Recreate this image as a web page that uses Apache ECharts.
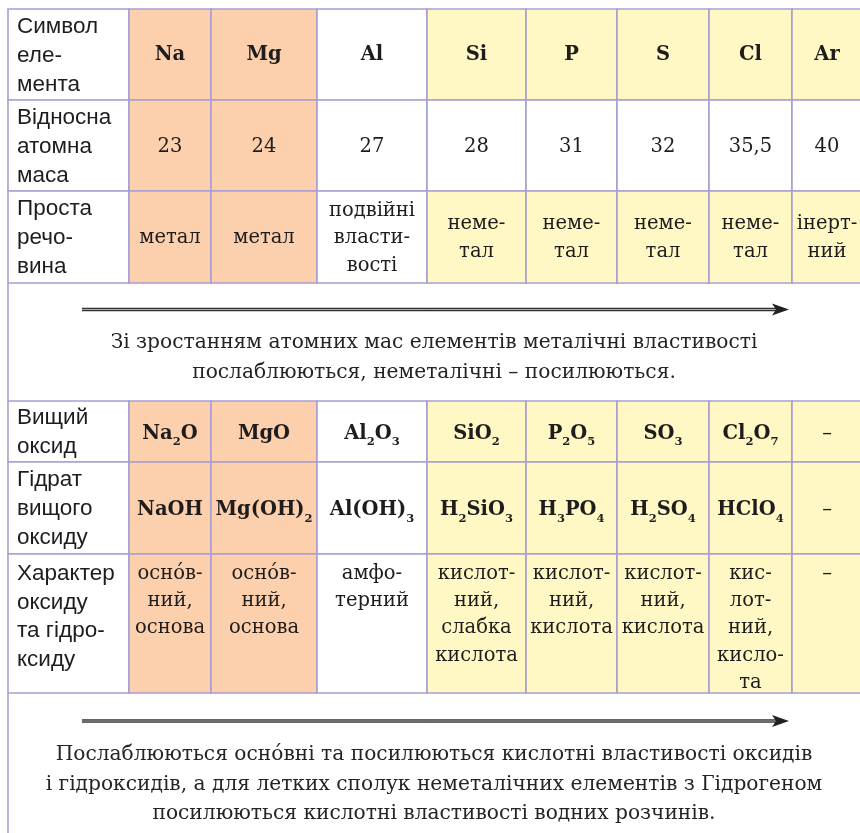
<!DOCTYPE html>
<html><head><meta charset="utf-8">
<script src="https://cdn.jsdelivr.net/npm/echarts@6/dist/echarts.min.js"></script>
<style>html,body{margin:0;padding:0;background:#fff}#c{width:860px;height:833px}</style>
</head><body><div id="c"></div>
<script>
// ---- data ----
const rowLabels = ['Символ\nеле-\nмента', 'Відносна\nатомна\nмаса', 'Проста\nречо-\nвина', 'Вищий\nоксид', 'Гідрат\nвищого\nоксиду', 'Характер\nоксиду\nта гідро-\nксиду'];
const elements = ['Na', 'Mg', 'Al', 'Si', 'P', 'S', 'Cl', 'Ar'];
const atomicMass = ['23', '24', '27', '28', '31', '32', '35,5', '40'];
const simpleSubstance = ['метал', 'метал', 'подвійні\nвласти-\nвості', 'неме-\nтал', 'неме-\nтал', 'неме-\nтал', 'неме-\nтал', 'інерт-\nний'];
const higherOxide = ['Na2O', 'MgO', 'Al2O3', 'SiO2', 'P2O5', 'SO3', 'Cl2O7', '–'];
const hydrate = ['NaOH', 'Mg(OH)2', 'Al(OH)3', 'H2SiO3', 'H3PO4', 'H2SO4', 'HClO4', '–'];
const character = ['оснóв-\nний,\nоснова', 'оснóв-\nний,\nоснова', 'амфо-\nтерний', 'кислот-\nний,\nслабка\nкислота', 'кислот-\nний,\nкислота', 'кислот-\nний,\nкислота', 'кис-\nлот-\nний,\nкисло-\nта', '–'];
const elementClass = ['metal', 'metal', 'amphoteric', 'nonmetal', 'nonmetal', 'nonmetal', 'nonmetal', 'inert'];
const rowTinted = [true, false, true, true, true, true];
const trendTexts = [
  'Зі зростанням атомних мас елементів металічні властивості\nпослаблюються, неметалічні – посилюються.',
  'Послаблюються оснóвні та посилюються кислотні властивості оксидів\nі гідроксидів, а для летких сполук неметалічних елементів з Гідрогеном\nпосилюються кислотні властивості водних розчинів.'
];

// ---- layout ----
const colEdges = [8, 129, 211, 317, 427, 526, 617, 709, 792, 862];
const bandEdges = [9, 100, 191, 283, 401, 462, 554, 693, 834];
const tableBand = [0, 1, 2, 4, 5, 6];
const trendBand = [3, 7];
const arrowOffset = [26.5, 28];
const textOffset = [44.5, 47.5];
const textLineH = [30.5, 29.5];
const arrowX = [82, 789];
const BORDER = '#a99fd3';
const PEACH = '#fcd0ad';
const YELLOW = '#fff8c4';
const INK = '#1f1c1d';

const rows = [elements, atomicMass, simpleSubstance, higherOxide, hydrate, character];
const rowKind = ['symbol', 'plain', 'plain', 'formula', 'formula', 'top'];

function formulaRich(f) {
  if (f === '–') return '{d|–}';
  let out = '';
  const re = /(\d+)|([^\d]+)/g; let m;
  while ((m = re.exec(f))) out += m[1] ? '{s|' + m[1] + '}' : '{m|' + m[2] + '}';
  return out;
}

const cellData = [];
for (let r = 0; r < rows.length; r++) for (let c = 0; c <= elements.length; c++) cellData.push([c, r]);

function fillFor(c, r) {
  if (c === 0) return '#ffffff';
  const k = elementClass[c - 1];
  if (k === 'metal') return PEACH;
  if (k === 'amphoteric') return '#ffffff';
  return rowTinted[r] ? YELLOW : '#ffffff';
}

function renderCell(params, api) {
  const c = api.value(0), r = api.value(1);
  const b = tableBand[r];
  const p0 = api.coord([colEdges[c], bandEdges[b]]);
  const p1 = api.coord([colEdges[c + 1], bandEdges[b + 1]]);
  const w = p1[0] - p0[0], h = p1[1] - p0[1];
  const children = [{
    type: 'rect', shape: { x: p0[0], y: p0[1], width: w, height: h },
    style: { fill: fillFor(c, r), stroke: BORDER, lineWidth: 1.6 }
  }];
  let txt;
  if (c === 0) {
    const top = r === 5;
    txt = {
      type: 'text', style: {
        text: rowLabels[r], x: p0[0] + 9, y: top ? p0[1] + 6 : p0[1] + h / 2 + 1,
        align: 'left', verticalAlign: top ? 'top' : 'middle',
        font: '22.5px "Liberation Sans", Arial, sans-serif', lineHeight: r === 5 ? 28.5 : 29, fill: INK
      }
    };
  } else {
    const v = rows[r][c - 1];
    const cx = p0[0] + w / 2;
    const kind = rowKind[r];
    if (kind === 'symbol') {
      txt = { type: 'text', style: { text: v, x: cx, y: p0[1] + h / 2, align: 'center', verticalAlign: 'middle', font: 'bold 19.5px "DejaVu Serif", serif', fill: INK } };
    } else if (kind === 'formula') {
      txt = {
        type: 'text', style: {
          text: formulaRich(v), x: cx, y: p0[1] + h / 2 + 2, align: 'center', verticalAlign: 'middle', fill: INK,
          rich: {
            m: { fontFamily: 'DejaVu Serif', fontWeight: 'bold', fontSize: 19.5, lineHeight: 30, fill: INK, color: INK },
            d: { fontFamily: 'DejaVu Serif', fontSize: 19.5, lineHeight: 30, fill: INK, color: INK },
            s: { fontFamily: 'DejaVu Serif', fontWeight: 'bold', fontSize: 11.5, lineHeight: 11, verticalAlign: 'bottom', fill: INK, color: INK }
          }
        }
      };
    } else if (kind === 'top') {
      txt = { type: 'text', style: { text: v, x: cx, y: p0[1] + 6, align: 'center', verticalAlign: 'top', font: '19.5px "DejaVu Serif", serif', lineHeight: 27.3, fill: INK } };
    } else {
      txt = { type: 'text', style: { text: v, x: cx, y: p0[1] + h / 2 + 1, align: 'center', verticalAlign: 'middle', font: '19.5px "DejaVu Serif", serif', lineHeight: 27.5, fill: INK } };
    }
  }
  children.push(txt);
  return { type: 'group', children };
}

function renderTrend(params, api) {
  const i = api.value(0);
  const b = trendBand[i];
  const p0 = api.coord([colEdges[0], bandEdges[b]]);
  const p1 = api.coord([colEdges[colEdges.length - 1], bandEdges[b + 1]]);
  const a0 = api.coord([arrowX[0], bandEdges[b] + arrowOffset[i]]);
  const a1 = api.coord([arrowX[1], bandEdges[b] + arrowOffset[i]]);
  const ay = a0[1];
  return {
    type: 'group', children: [
      { type: 'rect', shape: { x: p0[0], y: p0[1], width: p1[0] - p0[0], height: p1[1] - p0[1] }, style: { fill: '#fff' } },
      { type: 'line', shape: { x1: p0[0], y1: p0[1], x2: p0[0], y2: p1[1] }, style: { stroke: BORDER, lineWidth: 1.6 } },
      { type: 'line', shape: { x1: a0[0], y1: ay, x2: a1[0] - 12, y2: ay }, style: { stroke: '#333', lineWidth: 3.6 } },
      { type: 'line', shape: { x1: a0[0], y1: ay, x2: a1[0] - 12, y2: ay }, style: { stroke: '#b5b5b5', lineWidth: 0.9 } },
      { type: 'polygon', shape: { points: [[a1[0] - 17, ay - 6], [a1[0], ay], [a1[0] - 17, ay + 6], [a1[0] - 13, ay]] }, style: { fill: '#222' } },
      { type: 'text', style: { text: trendTexts[i], x: (p0[0] + p1[0]) / 2 - 1, y: p0[1] + textOffset[i], align: 'center', verticalAlign: 'top', font: '20.2px "DejaVu Serif", serif', lineHeight: textLineH[i], fill: '#262324' } }
    ]
  };
}

const chart = echarts.init(document.getElementById('c'), null, { renderer: 'canvas' });
chart.setOption({
  animation: false,
  backgroundColor: '#ffffff',
  grid: { left: 0, right: 0, top: 0, bottom: 0 },
  xAxis: { type: 'value', min: 0, max: 860, show: false },
  yAxis: { type: 'value', min: 0, max: 833, inverse: true, show: false },
  series: [
    { type: 'custom', renderItem: renderTrend, data: trendBand.map((b, i) => [i]), silent: true, clip: false },
    { type: 'custom', renderItem: renderCell, data: cellData, silent: true, clip: false }
  ]
});
</script></body></html>
